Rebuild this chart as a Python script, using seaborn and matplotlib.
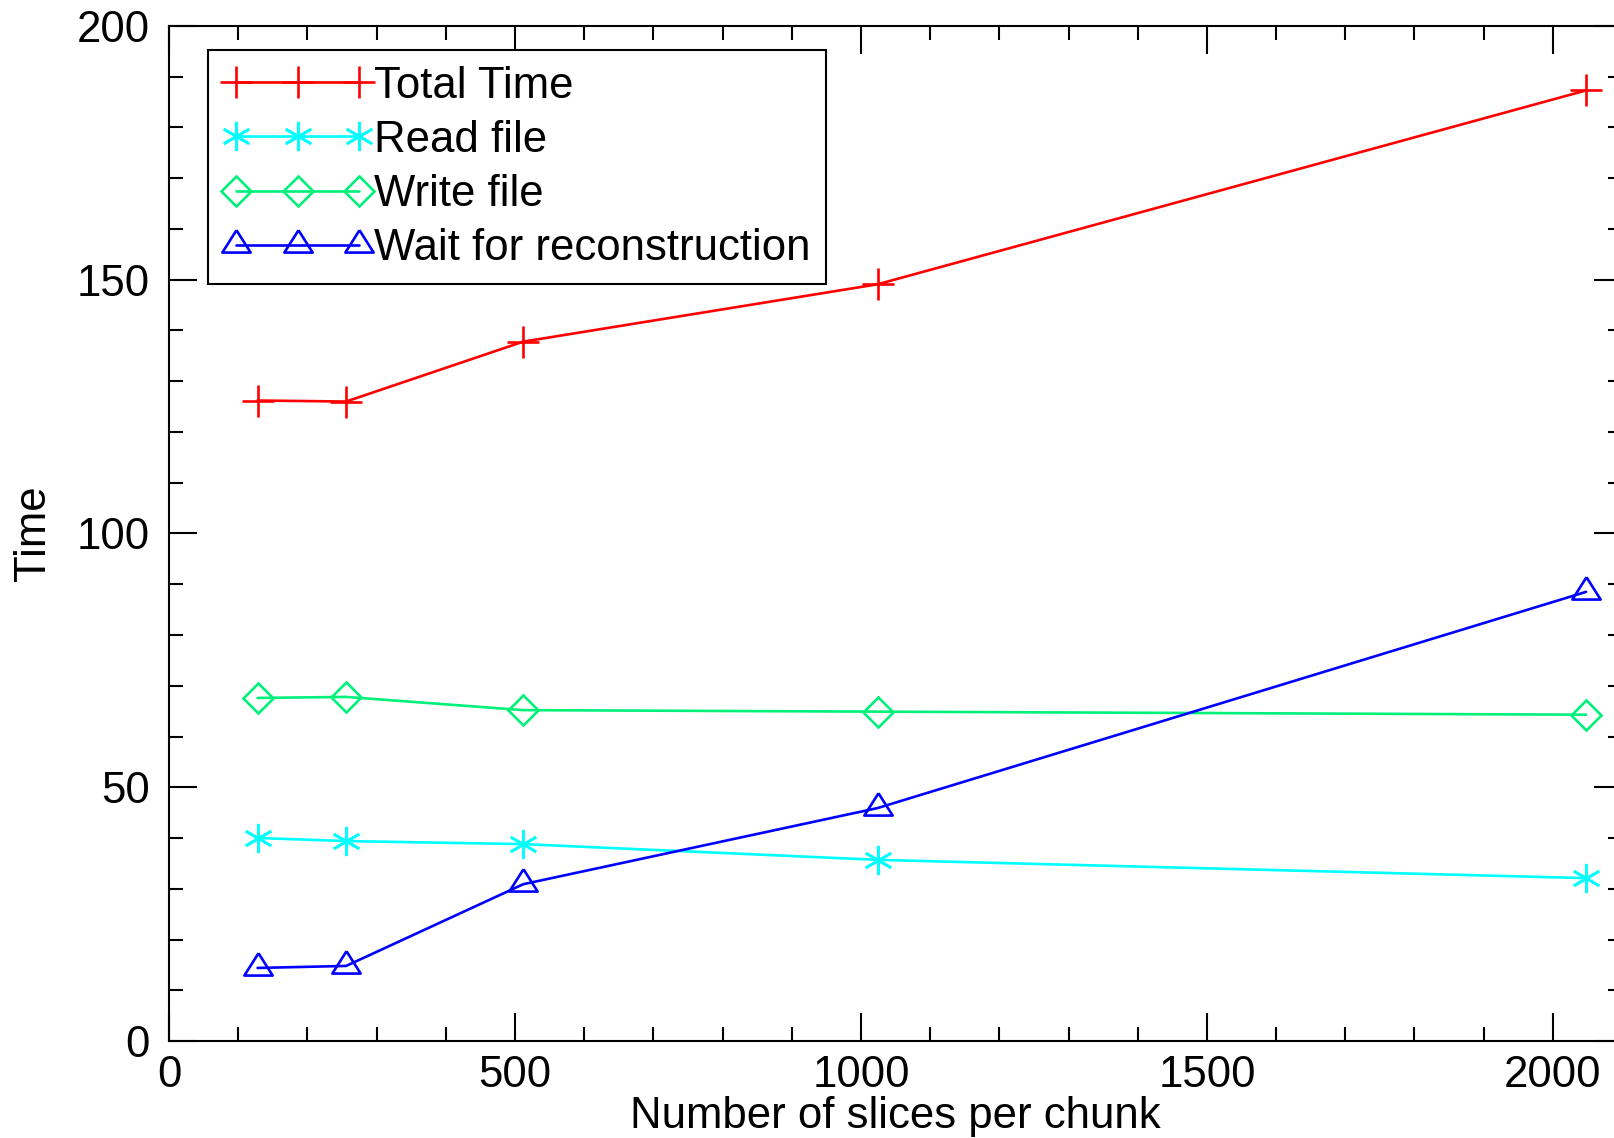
import numpy as np
import pandas as pd
import matplotlib
matplotlib.use("Agg")
import matplotlib.pyplot as plt
import seaborn as sns
from matplotlib.ticker import MultipleLocator

# slices per chunk
slices = [128, 256, 512, 1024, 2048]

# times
total_time = [126.2, 126.0, 137.8, 149.1, 187.3]
read_file = [40.0, 39.4, 38.8, 35.7, 32.1]
write_file = [67.6, 67.8, 65.2, 64.9, 64.3]
wait_recon = [14.4, 14.8, 30.9, 45.9, 88.5]

series_names = ["Total Time", "Read file", "Write file", "Wait for reconstruction"]

sns.set_style("ticks")
plt.rcParams["font.family"] = ["Liberation Sans", "DejaVu Sans"]
plt.rcParams["font.size"] = 31.5
plt.rcParams["text.color"] = "black"
plt.rcParams["axes.labelcolor"] = "black"
plt.rcParams["xtick.color"] = "black"
plt.rcParams["ytick.color"] = "black"

df = pd.DataFrame({
    "slices": slices * 4,
    "time": total_time + read_file + write_file + wait_recon,
    "serie": np.repeat(series_names, len(slices)),
})

# triangle with the data point near the centroid, like the IDL symbol
tri = [(0, 1.08), (-1, -0.5), (1, -0.5), (0, 1.08)]

estilos = {
    "Total Time": dict(color="#ff0000", marker="+", markersize=23),
    "Read file": dict(color="#00ffff", marker=(6, 2, 0), markersize=21),
    "Write file": dict(color="#00f07a", marker="D", markersize=15),
    "Wait for reconstruction": dict(color="#0000ff", marker=tri, markersize=22),
}

fig = plt.figure(figsize=(16.14, 11.38), dpi=100)
ax = fig.add_axes([0.1047, 0.0852, 0.9003, 0.892])

for nome in series_names:
    sub = df[df["serie"] == nome]
    st = estilos[nome]
    sns.lineplot(data=sub, x="slices", y="time", ax=ax, label=nome,
                 color=st["color"], marker=st["marker"], markersize=st["markersize"],
                 markerfacecolor="none", markeredgecolor=st["color"],
                 markeredgewidth=1.9, linewidth=1.9, estimator=None, sort=False)

ax.set_xlim(0, 2100)
ax.set_ylim(0, 200)
ax.xaxis.set_major_locator(MultipleLocator(500))
ax.xaxis.set_minor_locator(MultipleLocator(100))
ax.yaxis.set_major_locator(MultipleLocator(50))
ax.yaxis.set_minor_locator(MultipleLocator(10))
ax.tick_params(which="both", direction="in", top=True, right=True, width=1.5, colors="black")
ax.tick_params(which="major", length=20)
ax.tick_params(which="minor", length=10)
ax.tick_params(axis="x", which="major", pad=10)
ax.tick_params(axis="y", which="major", pad=14)
for s in ax.spines.values():
    s.set_linewidth(1.5)
    s.set_color("black")

ax.set_xlabel("Number of slices per chunk", labelpad=0)
ax.set_ylabel("Time", labelpad=16)

leg = ax.legend(loc="upper left", bbox_to_anchor=(0.0268, 0.976), numpoints=3,
                handlelength=3.4, handletextpad=0.05, borderpad=0.35, borderaxespad=0,
                labelspacing=0.3, fancybox=False, framealpha=1, edgecolor="black",
                fontsize=31.5)
leg.get_frame().set_linewidth(1.5)

fig.savefig("out.png", dpi=100)
